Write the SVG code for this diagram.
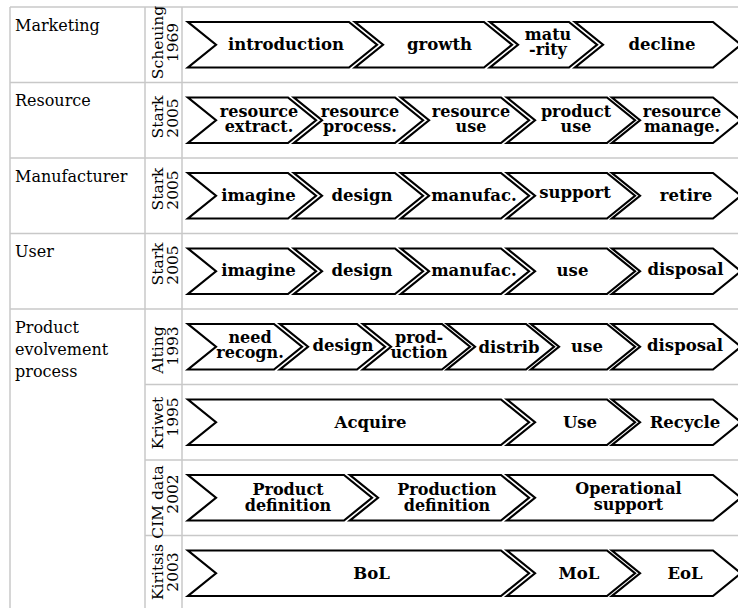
<svg xmlns="http://www.w3.org/2000/svg" width="738" height="608" viewBox="0 0 738 608">
<style>
.grid{stroke:#c8c8c8;stroke-width:1.5;fill:none}
.ch{fill:#fff;stroke:#000;stroke-width:2.2;stroke-linejoin:miter}
.lbl{font-family:"DejaVu Serif","Liberation Serif",serif;font-weight:bold;font-size:16.5px;text-anchor:middle;fill:#000}
.lbl2{font-family:"DejaVu Serif","Liberation Serif",serif;font-weight:bold;font-size:16px;text-anchor:middle;fill:#000}
.row{font-family:"DejaVu Serif","Liberation Serif",serif;font-size:16px;fill:#000}
.rot{font-family:"DejaVu Serif","Liberation Serif",serif;font-size:15.5px;text-anchor:middle;fill:#000}
</style>
<rect width="738" height="608" fill="#fff"/>
<g id="grid" class="grid">
<line x1="10" y1="7" x2="738" y2="7"/>
<line x1="10" y1="82.5" x2="738" y2="82.5"/>
<line x1="10" y1="158" x2="738" y2="158"/>
<line x1="10" y1="233.5" x2="738" y2="233.5"/>
<line x1="10" y1="309" x2="738" y2="309"/>
<line x1="145" y1="384.5" x2="738" y2="384.5"/>
<line x1="145" y1="460" x2="738" y2="460"/>
<line x1="145" y1="535.5" x2="738" y2="535.5"/>
<line x1="10" y1="7" x2="10" y2="608"/>
<line x1="145" y1="7" x2="145" y2="608"/>
<line x1="182" y1="7" x2="182" y2="608"/>
</g>
<g id="row-labels" class="row">
<text x="15" y="30.5">Marketing</text>
<text x="15" y="106">Resource</text>
<text x="15" y="181.5">Manufacturer</text>
<text x="15" y="257">User</text>
<text x="15" y="332.5">Product</text>
<text x="15" y="354.5">evolvement</text>
<text x="15" y="376.5">process</text>
</g>
<g id="source-labels" class="rot">
<text x="162.5" y="42.5" transform="rotate(-90 162.5 42.5)">Scheuing</text>
<text x="178" y="42.5" transform="rotate(-90 178 42.5)">1969</text>
<text x="162.5" y="117" transform="rotate(-90 162.5 117)">Stark</text>
<text x="178" y="118" transform="rotate(-90 178 118)">2005</text>
<text x="162.5" y="189" transform="rotate(-90 162.5 189)">Stark</text>
<text x="178" y="190" transform="rotate(-90 178 190)">2005</text>
<text x="162.5" y="264" transform="rotate(-90 162.5 264)">Stark</text>
<text x="178" y="265" transform="rotate(-90 178 265)">2005</text>
<text x="162.5" y="350" transform="rotate(-90 162.5 350)">Alting</text>
<text x="178" y="346" transform="rotate(-90 178 346)">1993</text>
<text x="162.5" y="423" transform="rotate(-90 162.5 423)">Kriwet</text>
<text x="178" y="417" transform="rotate(-90 178 417)">1995</text>
<text x="162.5" y="502" transform="rotate(-90 162.5 502)">CIM data</text>
<text x="178" y="494" transform="rotate(-90 178 494)">2002</text>
<text x="162.5" y="572" transform="rotate(-90 162.5 572)">Kiritsis</text>
<text x="178" y="572" transform="rotate(-90 178 572)">2003</text>
</g>
<g id="connectors"/>
<g id="m-introduction"><polygon class="ch" points="188,22 349,22 377,44.75 349,67.5 188,67.5 216,44.75"/><text class="lbl" x="286" y="50">introduction</text></g>
<g id="m-growth"><polygon class="ch" points="355,22 484,22 512,44.75 484,67.5 355,67.5 383,44.75"/><text class="lbl" x="439.5" y="50">growth</text></g>
<g id="m-maturity"><polygon class="ch" points="490,22 569,22 597,44.75 569,67.5 490,67.5 518,44.75"/><text class="lbl2" x="548" y="39.5"><tspan x="548">matu</tspan><tspan x="548" y="55">-rity</tspan></text></g>
<g id="m-decline"><polygon class="ch" points="575,22 713,22 741,44.75 713,67.5 575,67.5 603,44.75"/><text class="lbl" x="662" y="50">decline</text></g>
<g id="r-extract"><polygon class="ch" points="188,97.5 288,97.5 316,120.25 288,143 188,143 216,120.25"/><text class="lbl2" x="259" y="116.5"><tspan x="259">resource</tspan><tspan x="259" y="132">extract.</tspan></text></g>
<g id="r-process"><polygon class="ch" points="294,97.5 395,97.5 423,120.25 395,143 294,143 322,120.25"/><text class="lbl2" x="360" y="116.5"><tspan x="360">resource</tspan><tspan x="360" y="132">process.</tspan></text></g>
<g id="r-use"><polygon class="ch" points="401,97.5 501,97.5 529,120.25 501,143 401,143 429,120.25"/><text class="lbl2" x="471" y="116.5"><tspan x="471">resource</tspan><tspan x="471" y="132">use</tspan></text></g>
<g id="r-product-use"><polygon class="ch" points="507,97.5 607,97.5 635,120.25 607,143 507,143 535,120.25"/><text class="lbl2" x="576" y="116.5"><tspan x="576">product</tspan><tspan x="576" y="132">use</tspan></text></g>
<g id="r-manage"><polygon class="ch" points="612,97.5 713,97.5 741,120.25 713,143 612,143 640,120.25"/><text class="lbl2" x="682" y="116.5"><tspan x="682">resource</tspan><tspan x="682" y="132">manage.</tspan></text></g>
<g id="f-imagine"><polygon class="ch" points="188,173 288,173 316,195.75 288,218.5 188,218.5 216,195.75"/><text class="lbl" x="258.5" y="200.5">imagine</text></g>
<g id="f-design"><polygon class="ch" points="294,173 395,173 423,195.75 395,218.5 294,218.5 322,195.75"/><text class="lbl" x="362" y="200.5">design</text></g>
<g id="f-manufac"><polygon class="ch" points="401,173 501,173 529,195.75 501,218.5 401,218.5 429,195.75"/><text class="lbl" x="474" y="200.5">manufac.</text></g>
<g id="f-support"><polygon class="ch" points="507,173 607,173 635,195.75 607,218.5 507,218.5 535,195.75"/><text class="lbl" x="575" y="198">support</text></g>
<g id="f-retire"><polygon class="ch" points="612,173 713,173 741,195.75 713,218.5 612,218.5 640,195.75"/><text class="lbl" x="686" y="200.5">retire</text></g>
<g id="u-imagine"><polygon class="ch" points="188,248.5 288,248.5 316,271.25 288,294 188,294 216,271.25"/><text class="lbl" x="258.5" y="276">imagine</text></g>
<g id="u-design"><polygon class="ch" points="294,248.5 395,248.5 423,271.25 395,294 294,294 322,271.25"/><text class="lbl" x="362" y="276">design</text></g>
<g id="u-manufac"><polygon class="ch" points="401,248.5 501,248.5 529,271.25 501,294 401,294 429,271.25"/><text class="lbl" x="474" y="276">manufac.</text></g>
<g id="u-use"><polygon class="ch" points="507,248.5 607,248.5 635,271.25 607,294 507,294 535,271.25"/><text class="lbl" x="572.5" y="275.5">use</text></g>
<g id="u-disposal"><polygon class="ch" points="612,248.5 713,248.5 741,271.25 713,294 612,294 640,271.25"/><text class="lbl" x="685.5" y="275">disposal</text></g>
<g id="a-need"><polygon class="ch" points="188,324 274,324 302,346.75 274,369.5 188,369.5 216,346.75"/><text class="lbl2" x="250" y="343"><tspan x="250">need</tspan><tspan x="250" y="357.5">recogn.</tspan></text></g>
<g id="a-design"><polygon class="ch" points="280,324 357,324 385,346.75 357,369.5 280,369.5 308,346.75"/><text class="lbl" x="343" y="351">design</text></g>
<g id="a-production"><polygon class="ch" points="363,324 442,324 470,346.75 442,369.5 363,369.5 391,346.75"/><text class="lbl2" x="419" y="343"><tspan x="419">prod-</tspan><tspan x="419" y="358">uction</tspan></text></g>
<g id="a-distrib"><polygon class="ch" points="447,324 526,324 554,346.75 526,369.5 447,369.5 475,346.75"/><text class="lbl" x="509" y="352.5">distrib</text></g>
<g id="a-use"><polygon class="ch" points="531,324 607,324 635,346.75 607,369.5 531,369.5 559,346.75"/><text class="lbl" x="587" y="351.5">use</text></g>
<g id="a-disposal"><polygon class="ch" points="612,324 713,324 741,346.75 713,369.5 612,369.5 640,346.75"/><text class="lbl" x="685" y="351">disposal</text></g>
<g id="k-acquire"><polygon class="ch" points="188,399.5 501,399.5 529,422.25 501,445 188,445 216,422.25"/><text class="lbl" x="370.5" y="427.5">Acquire</text></g>
<g id="k-use"><polygon class="ch" points="507,399.5 607,399.5 635,422.25 607,445 507,445 535,422.25"/><text class="lbl" x="580" y="427.5">Use</text></g>
<g id="k-recycle"><polygon class="ch" points="612,399.5 713,399.5 741,422.25 713,445 612,445 640,422.25"/><text class="lbl" x="685" y="427.5">Recycle</text></g>
<g id="c-product-def"><polygon class="ch" points="188,475 344,475 372,497.75 344,520.5 188,520.5 216,497.75"/><text class="lbl2" x="288" y="495"><tspan x="288">Product</tspan><tspan x="288" y="510.5">definition</tspan></text></g>
<g id="c-production-def"><polygon class="ch" points="350,475 501,475 529,497.75 501,520.5 350,520.5 378,497.75"/><text class="lbl2" x="447" y="495"><tspan x="447">Production</tspan><tspan x="447" y="510.5">definition</tspan></text></g>
<g id="c-operational"><polygon class="ch" points="507,475 713,475 741,497.75 713,520.5 507,520.5 535,497.75"/><text class="lbl2" x="628.5" y="494"><tspan x="628.5">Operational</tspan><tspan x="628.5" y="509.5">support</tspan></text></g>
<g id="ki-bol"><polygon class="ch" points="188,550.5 501,550.5 529,573.25 501,596 188,596 216,573.25"/><text class="lbl" x="371.5" y="578.5">BoL</text></g>
<g id="ki-mol"><polygon class="ch" points="507,550.5 607,550.5 635,573.25 607,596 507,596 535,573.25"/><text class="lbl" x="579" y="578.5">MoL</text></g>
<g id="ki-eol"><polygon class="ch" points="612,550.5 713,550.5 741,573.25 713,596 612,596 640,573.25"/><text class="lbl" x="685" y="578.5">EoL</text></g>
</svg>
